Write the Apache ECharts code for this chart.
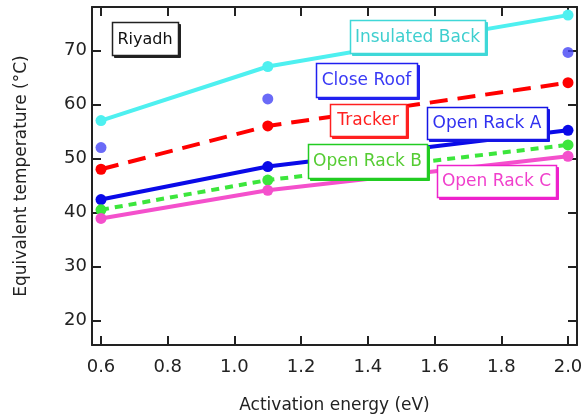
<!DOCTYPE html>
<html><head><meta charset="utf-8">
<script src="https://cdn.jsdelivr.net/npm/echarts@6/dist/echarts.min.js"></script>
<style>html,body{margin:0;padding:0;background:#fff}#c{width:584px;height:417px}</style>
</head><body><div id="c"></div>
<script>
const energies = [0.6, 1.1, 2.0];
const insulatedBack = [57.0, 67.0, 76.5];
const closeRoof = [52.0, 61.0, 69.6];
const tracker = [48.0, 56.0, 64.0];
const openRackA = [42.4, 48.5, 55.2];
const openRackB = [40.5, 46.0, 52.5];
const openRackC = [38.9, 44.1, 50.4];
const xTicks = [0.6, 0.8, 1.0, 1.2, 1.4, 1.6, 1.8, 2.0];
const yTicks = [20, 30, 40, 50, 60, 70];

const font = 'DejaVu Sans';
function pts(vals){ return energies.map((e,i)=>[e, vals[i]]); }
function lineSeries(name, vals, color, type){
  return {name, type:'line', data: pts(vals), symbol:'circle', symbolSize: 11,
    lineStyle:{color, width:4, type: type || 'solid'}, itemStyle:{color}, z:2, animation:false};
}
function box(x, y, w, h, text, color, textColor, size){
  return {type:'group', z:100, children:[
    {type:'rect', shape:{x:x+2.5, y:y+2.5, width:w, height:h}, z:99,
     style:{fill:color, stroke:color, lineWidth:1}},
    {type:'rect', shape:{x:x+0.5, y:y+0.5, width:w, height:h}, z:100,
     style:{fill:'#fff', stroke:color, lineWidth:1.5}},
    {type:'text', x: x + w/2, y: y + h/2 + 1, z:101,
     style:{text, fill:textColor, font:(size||17)+'px "'+font+'"', align:'center', verticalAlign:'middle'}}
  ]};
}
const xRange = {min:0.573, max:2.027};
const yRange = {min:15.5, max:78};
const axisLine = {show:true, lineStyle:{color:'#222', width:2}};
const tick = (vals)=>({show:true, inside:true, length:9, lineStyle:{color:'#222', width:2}, customValues: vals});
const chart = echarts.init(document.getElementById('c'));
chart.setOption({
  animation:false,
  grid:{left:92, right:7, top:7, bottom:72, containLabel:false, outerBoundsMode:'none'},
  xAxis:[
    {type:'value', ...xRange, position:'bottom', axisLine, axisTick:tick(xTicks), splitLine:{show:false},
     axisLabel:{customValues:xTicks, formatter:v=>v.toFixed(1), color:'#222', fontFamily:font, fontSize:18, margin:13},
     name:'Activation energy (eV)', nameLocation:'middle', nameGap:52, nameTextStyle:{color:'#222', fontFamily:font, fontSize:17}},
    {type:'value', ...xRange, position:'top', axisLine, axisTick:tick(xTicks), axisLabel:{show:false}, splitLine:{show:false}}
  ],
  yAxis:[
    {type:'value', ...yRange, position:'left', axisLine, axisTick:tick(yTicks), splitLine:{show:false},
     axisLabel:{customValues:yTicks, color:'#222', fontFamily:font, fontSize:18, margin:5},
     name:'Equivalent temperature (°C)', nameLocation:'middle', nameGap:62, nameTextStyle:{color:'#222', fontFamily:font, fontSize:17}},
    {type:'value', ...yRange, position:'right', axisLine, axisTick:tick(yTicks), axisLabel:{show:false}, splitLine:{show:false}}
  ],
  series:[
    lineSeries('Insulated Back', insulatedBack, '#4ef0f0'),
    {name:'Close Roof', type:'scatter', data: pts(closeRoof), symbol:'circle', symbolSize:11, itemStyle:{color:'#4545f5'}, z:2},
    lineSeries('Tracker', tracker, '#ff0000', [18,10]),
    lineSeries('Open Rack A', openRackA, '#0a0ae8'),
    lineSeries('Open Rack B', openRackB, '#3ce63c', [8,6]),
    lineSeries('Open Rack C', openRackC, '#f450cc')
  ],
  graphic:[
    box(112, 22, 66, 33, 'Riyadh', '#222', '#111', 16),
    box(350, 20, 135, 33, 'Insulated Back', '#3fd8d8', '#3fcfcf'),
    box(316, 63, 101, 34, 'Close Roof', '#2020f0', '#3a3af5'),
    box(330, 104, 76, 32, 'Tracker', '#ff2020', '#ff2020'),
    box(427, 107, 120, 32, 'Open Rack A', '#1515e5', '#3030f0'),
    box(308, 144, 119, 34, 'Open Rack B', '#22cc22', '#55cc33'),
    box(437, 165, 119, 32, 'Open Rack C', '#ee22cc', '#f040cc')
  ]
});
</script></body></html>
